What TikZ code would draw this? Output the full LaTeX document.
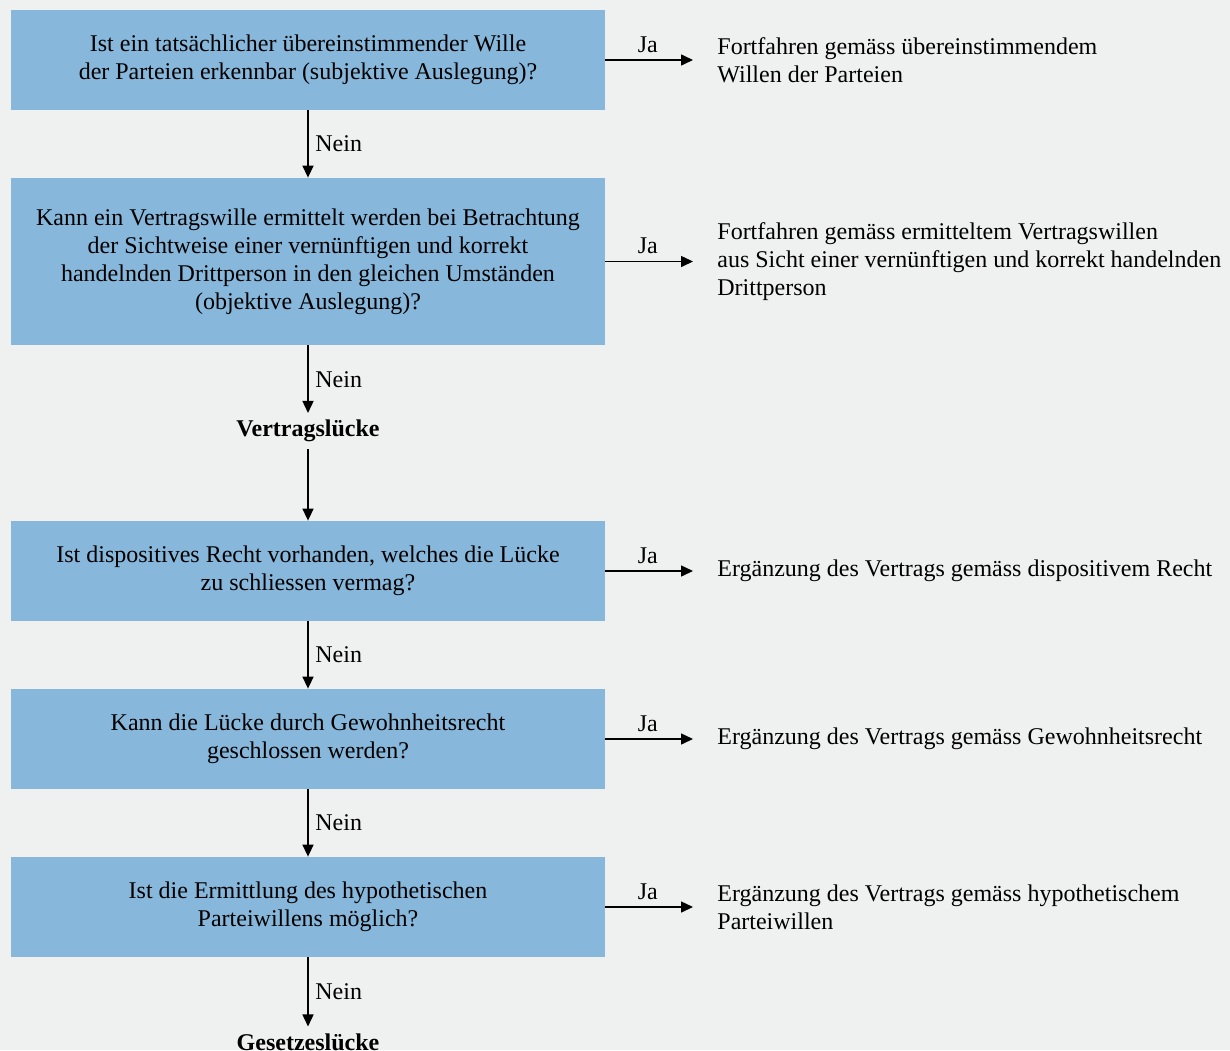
\documentclass[tikz,border=0pt]{standalone}
\usepackage{fontspec}
\setmainfont{Liberation Serif}
\usetikzlibrary{arrows.meta}
\usetikzlibrary{positioning}
\definecolor{bggrey}{RGB}{239,240,240}
\definecolor{boxblue}{RGB}{135,183,218}

\begin{document}
\begin{tikzpicture}[
    x=0.5pt, y=-0.5pt,
    font=\fontsize{12pt}{14pt}\selectfont
]
\tikzset{
    question/.style = {rectangle, fill=boxblue, align=center, minimum width=297pt, minimum height=50pt, inner sep=0pt},
    result/.style = {anchor=west, align=left, inner sep=0pt},
    gap/.style = {font=\fontsize{12pt}{14pt}\selectfont\bfseries},
    arrown/.style = {-{Triangle[length=6pt,width=5.5pt]}, line width=0.75pt},
    arrowj/.style = {-{Triangle[length=6pt,width=5.5pt]}, line width=0.75pt, shorten >=12pt}
}
\path[use as bounding box, fill=bggrey] (0,0) rectangle (1230,1050);
% questions
\node[question] at (308,60) (q1) {Ist ein tatsächlicher übereinstimmender Wille\\der Parteien erkennbar (subjektive Auslegung)?};
\node[question, minimum height=83.5pt] at (308,261.5) (q2) {Kann ein Vertragswille ermittelt werden bei Betrachtung\\der Sichtweise einer vernünftigen und korrekt\\handelnden Drittperson in den gleichen Umständen\\(objektive Auslegung)?};
\node[gap] at (308,431) (vl) {Vertragslücke};
\node[question] at (308,571) (q3) {Ist dispositives Recht vorhanden, welches die Lücke\\zu schliessen vermag?};
\node[question] at (308,739) (q4) {Kann die Lücke durch Gewohnheitsrecht\\geschlossen werden?};
\node[question] at (308,907) (q5) {Ist die Ermittlung des hypothetischen\\Parteiwillens möglich?};
\node[gap] at (308,1042) (gl) {Gesetzeslücke};
% results
\node[result] at (717,60) (r1) {Fortfahren gemäss übereinstimmendem\\Willen der Parteien};
\node[result] at (717,261.5) (r2) {Fortfahren gemäss ermitteltem Vertragswillen\\aus Sicht einer vernünftigen und korrekt handelnden\\Drittperson};
\node[result] at (717,571) (r3) {Ergänzung des Vertrags gemäss dispositivem Recht};
\node[result] at (717,739) (r4) {Ergänzung des Vertrags gemäss Gewohnheitsrecht};
\node[result] at (717,907) (r5) {Ergänzung des Vertrags gemäss hypothetischem\\Parteiwillen};
% Nein
\draw[arrown] (q1) -- node[right] {Nein} (q2);
\draw[arrown] (q2) -- node[right] {Nein} (vl);
\draw[arrown] (vl) -- (q3);
\draw[arrown] (q3) -- node[right] {Nein} (q4);
\draw[arrown] (q4) -- node[right] {Nein} (q5);
\draw[arrown] (q5) -- node[right] {Nein} (gl);
% Ja
\draw[arrowj] (q1) -- node[above, pos=0.38] {Ja} (r1);
\draw[arrowj] (q2) -- node[above, pos=0.38] {Ja} (r2);
\draw[arrowj] (q3) -- node[above, pos=0.38] {Ja} (r3);
\draw[arrowj] (q4) -- node[above, pos=0.38] {Ja} (r4);
\draw[arrowj] (q5) -- node[above, pos=0.38] {Ja} (r5);
\end{tikzpicture}
\end{document}
